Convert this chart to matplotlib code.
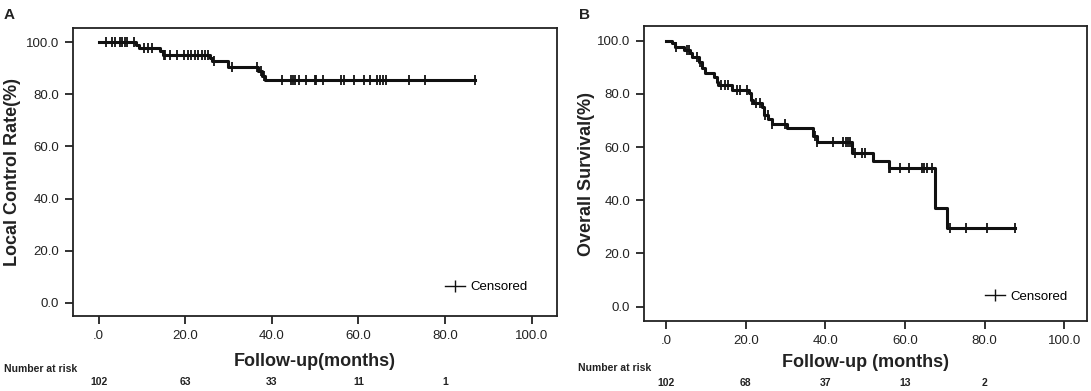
import numpy as np
import matplotlib
matplotlib.use("Agg")
import matplotlib.pyplot as plt
from matplotlib.lines import Line2D
from matplotlib.transforms import blended_transform_factory

plt.rcParams['font.family'] = ['Liberation Sans', 'DejaVu Sans']

# Panel A: local control (event times, level after event, censored times)
lc_event_t = [8.6, 9.4, 14.2, 14.8, 25.8, 26.2, 30.0, 36.9, 37.7, 38.5]
lc_level = [98.9, 97.7, 96.5, 95.3, 94.1, 92.9, 90.7, 89.0, 87.2, 85.4]
lc_cens_t = [1.8, 3.0, 3.8, 5.0, 5.5, 6.0, 6.6, 8.2, 10.4, 11.5, 12.3, 15.0, 15.4,
             16.6, 18.2, 19.8, 20.6, 21.4, 22.2, 23.0, 23.8, 24.6, 25.3, 26.7, 30.9,
             36.6, 37.5, 38.3, 42.4, 44.4, 44.9, 45.3, 46.3, 47.9, 49.9, 50.3, 51.9,
             55.9, 56.6, 59.1, 61.2, 62.8, 64.4, 64.9, 65.6, 66.4, 71.6, 75.4, 87.0]
lc_risk = ['102', '63', '33', '11', '1']

# Panel B: overall survival
os_event_t = [1.4, 2.3, 4.4, 6.0, 6.4, 8.3, 8.9, 9.7, 12.0, 12.7, 13.0, 16.5, 20.7,
              21.3, 21.9, 24.0, 24.6, 25.7, 26.5, 30.3, 37.0, 37.8, 46.8, 52.0, 55.9,
              67.5, 70.6]
os_level = [99.0, 97.7, 96.5, 95.2, 93.9, 92.1, 89.6, 88.0, 86.4, 84.6, 83.5, 81.4,
            80.2, 77.6, 76.4, 75.1, 72.0, 70.4, 68.5, 67.0, 64.1, 62.0, 57.7, 54.7,
            52.0, 37.0, 29.6]
os_cens_t = [2.5, 5.3, 5.8, 7.7, 8.5, 13.9, 14.8, 15.6, 17.7, 18.5, 20.2, 21.5, 22.7,
             23.6, 24.8, 25.5, 26.5, 29.9, 37.4, 38.0, 42.0, 44.5, 45.2, 45.8, 46.3,
             47.4, 49.1, 49.9, 55.9, 56.3, 58.7, 61.1, 64.2, 64.8, 65.5, 66.7, 71.3,
             75.3, 80.6, 87.6]
os_risk = ['102', '68', '37', '13', '2']

risk_x = [0, 20, 40, 60, 80]
xticks = [0, 20, 40, 60, 80, 100]
xtick_labels = ['.0', '20.0', '40.0', '60.0', '80.0', '100.0']
yticks = [0, 20, 40, 60, 80, 100]
ytick_labels = ['0.0', '20.0', '40.0', '60.0', '80.0', '100.0']

W, H = 1091, 391
fig = plt.figure(figsize=(W / 100, H / 100), dpi=100)


def px_axes(l, r, t, b):
    return fig.add_axes([l / W, (H - b) / H, (r - l) / W, (b - t) / H])


def km_panel(ax, ev_t, lev, cens_t, ylabel, xlabel, risk, xlim, ylim,
             ylab_x, xlab_y, leg_xy, risk_y):
    end = max(cens_t)
    t = np.array([0] + ev_t + [end])
    s = np.array([100] + lev + [lev[-1]])
    ax.plot(t, s, drawstyle='steps-post', color='#111111', lw=2.2)
    idx = np.searchsorted(t, cens_t, side='right') - 1
    ax.plot(cens_t, s[idx], ls='none', marker='|', ms=7.5, mew=1.3, color='#111111')

    ax.set_xlim(*xlim)
    ax.set_ylim(*ylim)
    ax.set_xticks(xticks)
    ax.set_xticklabels(xtick_labels)
    ax.set_yticks(yticks)
    ax.set_yticklabels(ytick_labels)
    ax.tick_params(direction='out', length=6, width=1.3, color='#222222',
                   labelsize=9.5, labelcolor='#222222', pad=4)
    for sp in ax.spines.values():
        sp.set_linewidth(1.3)
        sp.set_color('#222222')

    ax.set_ylabel(ylabel, fontsize=13, fontweight='bold', color='#222222')
    ax.yaxis.set_label_coords(ylab_x, 0.5)
    ax.yaxis.label.set_va('center')
    ax.set_xlabel(xlabel, fontsize=13, fontweight='bold', color='#222222')
    ax.xaxis.set_label_coords(0.5, xlab_y)
    ax.xaxis.label.set_va('center')

    h = Line2D([], [], color='#111111', lw=1.0, marker='|', ms=8, mew=1.0)
    ax.legend([h], ['Censored'], loc='center left', bbox_to_anchor=leg_xy,
              frameon=False, fontsize=9.5, handlelength=1.5, handletextpad=0.4,
              borderpad=0, borderaxespad=0)

    tr = blended_transform_factory(ax.transData, fig.transFigure)
    for x, n in zip(risk_x, risk):
        ax.text(x, risk_y, n, transform=tr, ha='center', va='center',
                fontsize=7.5, fontweight='bold', color='#222222', clip_on=False)


axA = px_axes(73, 556.7, 27.5, 316)
km_panel(axA, lc_event_t, lc_level, lc_cens_t, 'Local Control Rate(%)',
         'Follow-up(months)', lc_risk, (-5.9, 105.8), (-5.1, 105.7),
         -0.126, -0.158, (0.769, 0.0995), (H - 381.7) / H)

axB = px_axes(644.2, 1087.3, 26, 321)
km_panel(axB, os_event_t, os_level, os_cens_t, 'Overall Survival(%)',
         'Follow-up (months)', os_risk, (-5.5, 105.8), (-5.4, 105.5),
         -0.130, -0.142, (0.769, 0.082), (H - 383) / H)

fig.text(3.5 / W, (H - 369) / H, 'Number at risk', ha='left', va='center',
         fontsize=7.5, fontweight='bold', color='#222222')
fig.text(578 / W, (H - 368) / H, 'Number at risk', ha='left', va='center',
         fontsize=7.5, fontweight='bold', color='#222222')

fig.text(8.7 / W, (H - 15) / H, 'A', ha='center', va='center',
         fontsize=11, fontweight='bold', color='#222222')
fig.text(585 / W, (H - 15) / H, 'B', ha='center', va='center',
         fontsize=11, fontweight='bold', color='#222222')

fig.savefig('out.png', dpi=100)
